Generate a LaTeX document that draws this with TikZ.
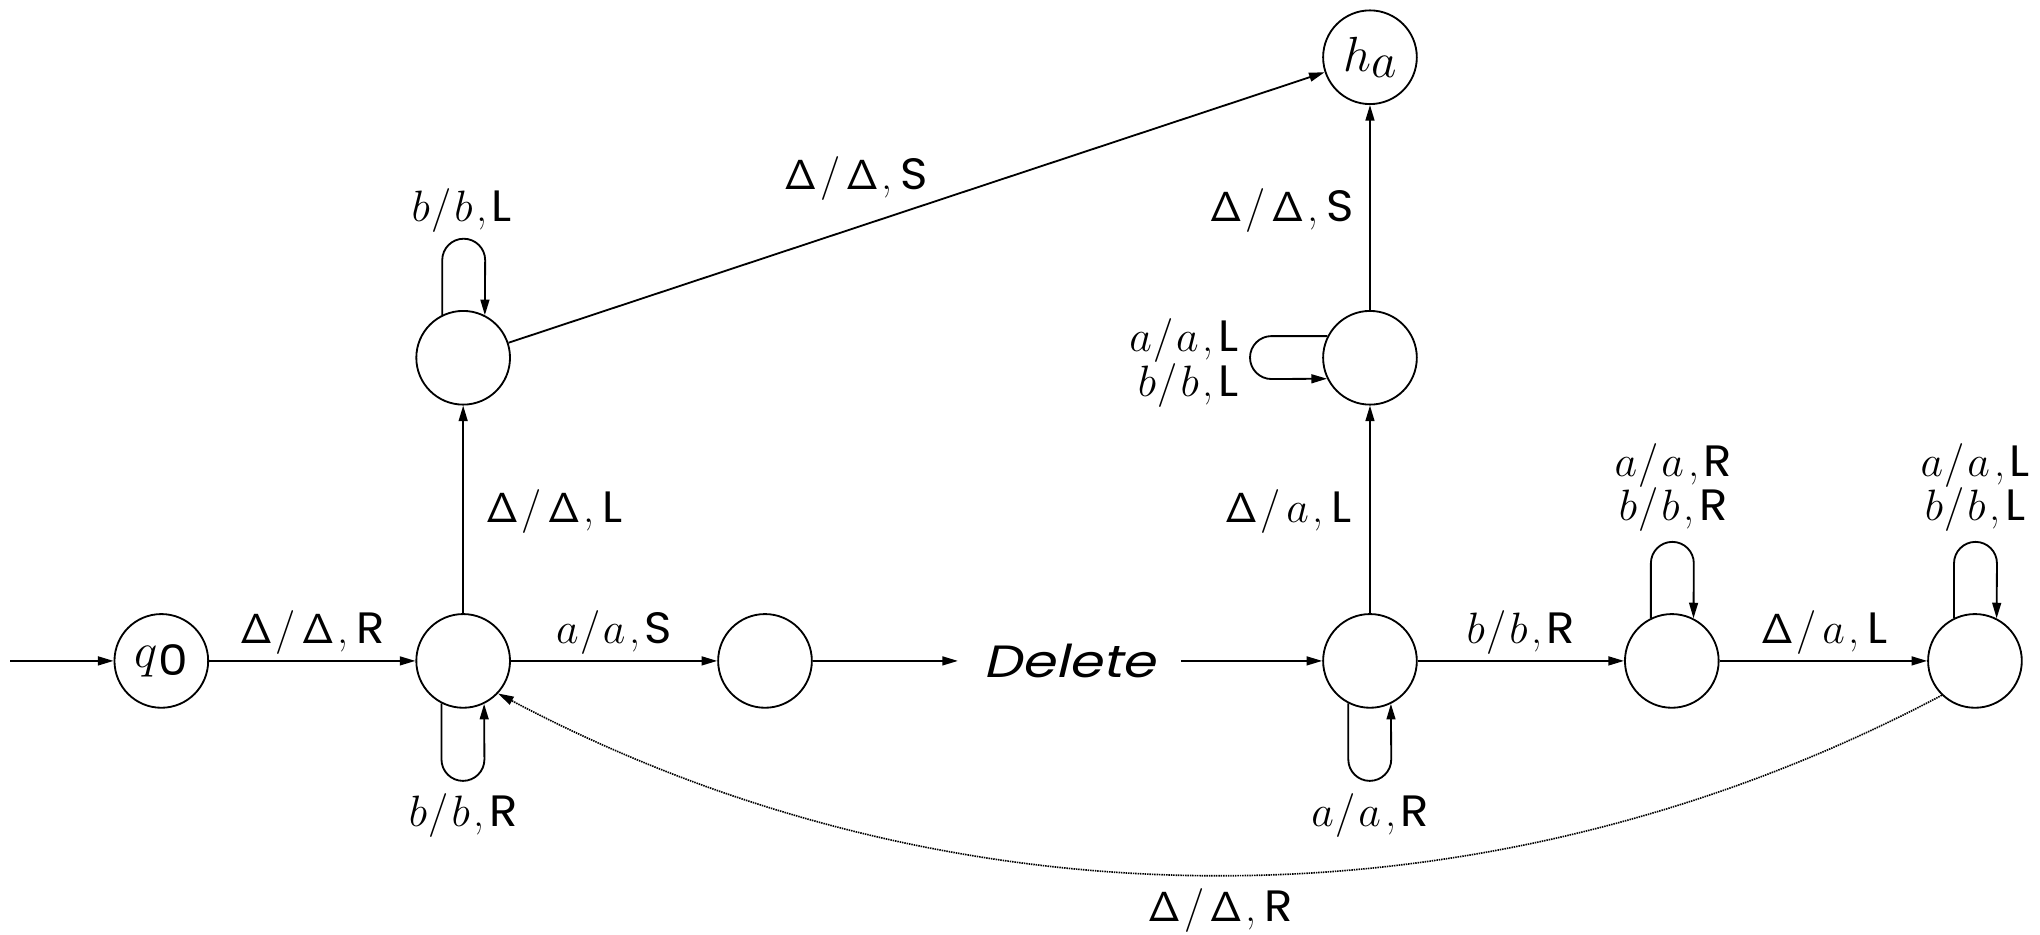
\RequirePackage{fix-cm}
\documentclass[tikz,border=0pt]{standalone}
\usepackage[no-math]{fontspec}
\newfontfamily\pop{Poppins}
\newfontfamily\popi[FakeSlant=0.2]{Poppins}
\usetikzlibrary{arrows.meta}
\newcommand{\Dl}{{\fontsize{23}{23}\selectfont$\mathsf{\Delta}$}}
\newcommand{\Sf}[1]{\scalebox{1.06}[1]{\pop\fontsize{24}{24}\selectfont #1}}
% labels with a leading Delta
\newcommand{\tlD}[3]{#1\hspace{0.065cm}/\hspace{0.1cm}#2\hspace{0.06cm},\hspace{0.16cm}\Sf{#3}}
% labels with a leading letter
\newcommand{\tlA}[3]{#1\hspace{0.03cm}/\hspace{0.05cm}#2\hspace{0.08cm},\hspace{0.08cm}\Sf{#3}}
\tikzset{
  every node/.style={font=\fontsize{24}{24.2}\selectfont},
  st/.style={circle, draw, line width=1pt, minimum size=1.8cm, inner sep=0pt},
  stlab/.style={font=\fontsize{27}{27}\selectfont},
  edge/.style={line width=1pt, -{Triangle[length=0.3cm,width=0.17cm]}},
  back/.style={edge, line width=0.9pt, dash pattern=on 0.8pt off 0.5pt},
  lbl/.style={inner sep=0pt},
}
\begin{document}
\begin{tikzpicture}[x=0.025cm, y=0.025cm]
\useasboundingbox (0,0) rectangle (1568,718);
% states
\node[st, stlab] (q0) at (124,210) {$q$\raisebox{-0.16cm}{\scalebox{1.12}[1]{\pop\fontsize{23}{23}\selectfont 0}}};
\node[st] (A) at (356,210) {};
\node[st] (B) at (588,210) {};
\node[inner xsep=0.48cm, inner ysep=0pt] (del) at (822,210) {\scalebox{1.2}[1]{\popi\fontsize{24.7}{25}\selectfont Delete}};
\node[st] (C) at (1053,210) {};
\node[st] (D) at (1285,210) {};
\node[st] (E) at (1518,210) {};
\node[st] (F) at (356,443) {};
\node[st] (G) at (1053,443) {};
\node[st, stlab] (ha) at (1053,674) {$h$\raisebox{-0.13cm}{$a$}};
\coordinate (init) at (8,210);
% edges
\draw[edge] (init) -- (q0);
\draw[edge] (q0) -- (A);
\draw[edge] (A) -- (B);
\draw[edge] (B) -- (del);
\draw[edge] (del) -- (C);
\draw[edge] (C) -- (D);
\draw[edge] (D) -- (E);
\draw[edge] (A) -- (F);
\draw[edge] (F) -- (ha);
\draw[edge] (C) -- (G);
\draw[edge] (G) -- (ha);
\draw[back] (E.226) .. controls +(-350,-185) and +(350,-185) .. (A.317);
% loops
\draw[edge] (A.243.5) -- ++(0,-43) arc[start angle=180, end angle=360, radius=0.4125cm] -- (A.296.5);
\draw[edge] (C.243.5) -- ++(0,-43) arc[start angle=180, end angle=360, radius=0.4125cm] -- (C.296.5);
\draw[edge] (F.116.5) -- ++(0,42) arc[start angle=180, end angle=0, radius=0.4125cm] -- (F.63.5);
\draw[edge] (D.116.5) -- ++(0,42) arc[start angle=180, end angle=0, radius=0.4125cm] -- (D.63.5);
\draw[edge] (E.116.5) -- ++(0,42) arc[start angle=180, end angle=0, radius=0.4125cm] -- (E.63.5);
\draw[edge] (G.153.5) -- ++(-43,0) arc[start angle=90, end angle=270, radius=0.4125cm] -- (G.206.5);
% labels
\node[lbl] (l1) at (240,232) {\tlD{\Dl}{\Dl}{R}};
\node[lbl] (l2) at (472,232) {\tlA{$a$}{$a$}{S}};
\node[lbl] (l3) at (356,91) {\tlA{$b$}{$b$}{R}};
\node[lbl] (l4) at (355,556) {\tlA{$b$}{$b$}{L}};
\node[lbl] (l5) at (426,325) {\tlD{\Dl}{\Dl}{L}};
\node[lbl] (l6) at (658,581) {\tlD{\Dl}{\Dl}{S}};
\node[lbl] (l7) at (985,556) {\tlD{\Dl}{\Dl}{S}};
\node[lbl, align=right, anchor=east] (l8) at (952,439) {\tlA{$a$}{$a$}{L}\\\tlA{$b$}{$b$}{L}};
\node[lbl] (l9) at (990,325) {\tlD{\Dl}{$a$}{L}};
\node[lbl] (l10) at (1169,232) {\tlA{$b$}{$b$}{R}};
\node[lbl] (l11) at (1402,232) {\tlD{\Dl}{$a$}{L}};
\node[lbl, align=center] (l12) at (1286,343) {\tlA{$a$}{$a$}{R}\\\tlA{$b$}{$b$}{R}};
\node[lbl, align=center] (l13) at (1518,343) {\tlA{$a$}{$a$}{L}\\\tlA{$b$}{$b$}{L}};
\node[lbl] (l14) at (1053,91) {\tlA{$a$}{$a$}{R}};
\node[lbl] (l15) at (938,18) {\tlD{\Dl}{\Dl}{R}};
\end{tikzpicture}
\end{document}
